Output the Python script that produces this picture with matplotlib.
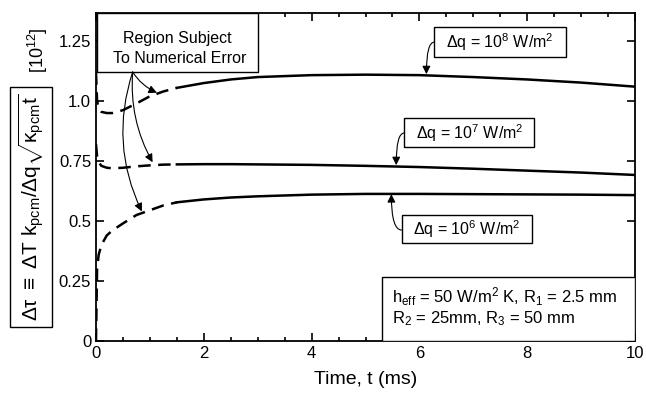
import numpy as np
import matplotlib
matplotlib.use('Agg')
import matplotlib.pyplot as plt
from matplotlib.patches import Rectangle

plt.rcParams['font.family'] = ['Liberation Sans', 'DejaVu Sans']
plt.rcParams['mathtext.fontset'] = 'custom'
plt.rcParams['mathtext.rm'] = 'Liberation Sans'
plt.rcParams['mathtext.it'] = 'Liberation Sans'
plt.rcParams['mathtext.bf'] = 'Liberation Sans'

# time (ms) and dimensionless temperature rise [10^12]
t = [0.0, 0.02, 0.05, 0.1, 0.2, 0.3, 0.5, 0.75, 1.0, 1.25, 1.5, 2, 2.5, 3, 4, 5, 6, 7, 8, 9, 10]
q8 = [1.12, 1.0, 0.97, 0.955, 0.95, 0.95, 0.962, 0.99, 1.02, 1.04, 1.055, 1.075, 1.09, 1.10, 1.108, 1.11,
      1.108, 1.10, 1.09, 1.077, 1.06]
q7 = [0.82, 0.77, 0.745, 0.73, 0.722, 0.72, 0.722, 0.728, 0.732, 0.735, 0.736, 0.737, 0.737, 0.736, 0.734,
      0.73, 0.725, 0.718, 0.71, 0.702, 0.692]
q6 = [0.0, 0.30, 0.36, 0.40, 0.44, 0.46, 0.49, 0.525, 0.545, 0.565, 0.578, 0.59, 0.598, 0.603, 0.61, 0.613,
      0.613, 0.612, 0.611, 0.61, 0.608]
t_err = 1.5  # dashed region (numerical error) ends here

fig = plt.figure(figsize=(6.46, 3.94), dpi=100)
ax = fig.add_axes([96/646, 1-341/394, 539/646, 328/394])

t = np.array(t)
for y in (q8, q7, q6):
    y = np.array(y)
    m = t <= t_err
    ax.plot(t[m], y[m], color='black', lw=1.8, dashes=(5, 3))
    m2 = t >= t_err
    ax.plot(t[m2], y[m2], color='black', lw=1.8)

ax.set_xlim(0, 10)
ax.set_ylim(0, 1.367)
ax.set_xticks([0, 2, 4, 6, 8, 10])
ax.set_xticks(np.arange(0, 10.01, 0.5), minor=True)
ax.set_yticks([0, 0.25, 0.5, 0.75, 1.0, 1.25])
ax.set_yticklabels(['0', '0.25', '0.5', '0.75', '1.0', '1.25'])
ax.tick_params(which='both', direction='in', top=True, right=True, labelsize=12, width=1.2)
ax.tick_params(which='major', length=6)
ax.tick_params(which='minor', length=3)
for s in ax.spines.values():
    s.set_linewidth(1.3)

ax.set_xlabel('Time, t (ms)', fontsize=14, labelpad=7)

fig.text(31/646, 1-207/394, r'$\Delta\tau\ \equiv\ \Delta T\ k_{pcm}/\Delta q\sqrt{\kappa_{pcm}t}$',
         rotation=90, fontsize=15, ha='center', va='center',
         bbox=dict(boxstyle='square,pad=0.3', fc='white', ec='black', lw=1.0))
fig.text(38/646, 1-50/394, r'$[10^{12}]$', rotation=90, fontsize=13, ha='center', va='center')

def box(x0, x1, y0, y1):
    ax.add_patch(Rectangle((x0, y0), x1-x0, y1-y0, fc='white', ec='black', lw=1.0, zorder=5))

# region subject to numerical error
box(0.02, 3.0, 1.121, 1.367)
ax.text(1.5, 1.262, 'Region Subject', fontsize=11.5, ha='center', va='center', zorder=6)
ax.text(1.55, 1.179, 'To Numerical Error', fontsize=11.5, ha='center', va='center', zorder=6)
ap = dict(arrowstyle='-|>', color='black', lw=0.8, mutation_scale=12, shrinkA=0, shrinkB=0)
ax.annotate('', xy=(1.13, 1.035), xytext=(0.68, 1.121),
            arrowprops=dict(ap, connectionstyle='arc3,rad=0.15'), zorder=6)
ax.annotate('', xy=(1.05, 0.745), xytext=(0.68, 1.121),
            arrowprops=dict(ap, connectionstyle='arc3,rad=0.15'), zorder=6)
ax.annotate('', xy=(0.85, 0.54), xytext=(0.68, 1.121),
            arrowprops=dict(ap, connectionstyle='arc3,rad=0.2'), zorder=6)

# heat flux labels
box(6.28, 8.72, 1.183, 1.308)
ax.text(7.5, 1.246, r'$\Delta$q = 10$^8$ W/m$^2$', fontsize=11.5, ha='center', va='center', zorder=6)
ax.annotate('', xy=(6.13, 1.112), xytext=(6.28, 1.246),
            arrowprops=dict(ap, connectionstyle='angle3,angleA=180,angleB=90'), zorder=6)

box(5.72, 8.13, 0.808, 0.929)
ax.text(6.93, 0.868, r'$\Delta$q = 10$^7$ W/m$^2$', fontsize=11.5, ha='center', va='center', zorder=6)
ax.annotate('', xy=(5.57, 0.733), xytext=(5.72, 0.867),
            arrowprops=dict(ap, connectionstyle='angle3,angleA=180,angleB=90'), zorder=6)

box(5.67, 8.09, 0.408, 0.525)
ax.text(6.88, 0.466, r'$\Delta$q = 10$^6$ W/m$^2$', fontsize=11.5, ha='center', va='center', zorder=6)
ax.annotate('', xy=(5.48, 0.612), xytext=(5.67, 0.4625),
            arrowprops=dict(ap, connectionstyle='angle3,angleA=180,angleB=90'), zorder=6)

# parameters
box(5.30, 10.0, 0.0, 0.267)
ax.text(5.5, 0.183, r'h$_{eff}$ = 50 W/m$^2$ K, R$_1$ = 2.5 mm', fontsize=12, ha='left', va='center', zorder=6)
ax.text(5.5, 0.095, r'R$_2$ = 25mm, R$_3$ = 50 mm', fontsize=12, ha='left', va='center', zorder=6)

fig.savefig('out.png', dpi=100)
